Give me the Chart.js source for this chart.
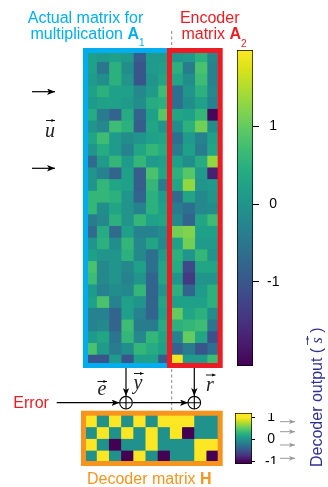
<!DOCTYPE html>
<html>
<head>
<meta charset="utf-8">
<script src="https://cdn.jsdelivr.net/npm/chart.js@4/dist/chart.umd.min.js"></script>
<style>
  html, body { margin: 0; padding: 0; background: #fff; }
  #wrap { position: relative; width: 328px; height: 487px; overflow: hidden; }
  canvas { position: absolute; }
  svg { position: absolute; left: 0; top: 0; pointer-events: none; }
</style>
</head>
<body>
<div id="wrap">
  <canvas id="topMap" width="135" height="316" style="left:85px;top:50px"></canvas>
  <canvas id="topBar" width="60" height="316" style="left:237px;top:50px"></canvas>
  <canvas id="hMap" width="134" height="47" style="left:85px;top:415px"></canvas>
  <canvas id="hBar" width="60" height="51" style="left:235px;top:413px"></canvas>
  <svg width="328" height="487" viewBox="0 0 328 487" xmlns="http://www.w3.org/2000/svg">
    <defs>
      <marker id="ah" viewBox="0 0 10 8" refX="10" refY="4" markerWidth="8" markerHeight="6.4" markerUnits="userSpaceOnUse" orient="auto">
        <path d="M0,0 L10,4 L0,8 L2.5,4 Z" fill="#000"/>
      </marker>
      <marker id="ahg" viewBox="0 0 10 8" refX="10" refY="4" markerWidth="6" markerHeight="5" markerUnits="userSpaceOnUse" orient="auto">
        <path d="M0,0 L10,4 L0,8 L2.5,4 Z" fill="#999"/>
      </marker>
      <marker id="ahs" viewBox="0 0 10 8" refX="10" refY="4" markerWidth="4" markerHeight="3.4" markerUnits="userSpaceOnUse" orient="auto">
        <path d="M0,0 L10,4 L0,8 L2.5,4 Z" fill="#000"/>
      </marker>
      <marker id="ahn" viewBox="0 0 10 8" refX="10" refY="4" markerWidth="4" markerHeight="3.4" markerUnits="userSpaceOnUse" orient="auto">
        <path d="M0,0 L10,4 L0,8 L2.5,4 Z" fill="#2e3192"/>
      </marker>
    </defs>
    <!-- matrix frames -->
    <rect x="85.5" y="50.5" width="84" height="315" fill="none" stroke="#00aeef" stroke-width="5"/>
    <rect x="169.5" y="50.5" width="50.7" height="315" fill="none" stroke="#ed1c24" stroke-width="5"/>
    <rect x="83.5" y="413.2" width="136.7" height="50.3" fill="none" stroke="#f7941d" stroke-width="5"/>
    <!-- dashed separator -->
    <line x1="171.7" y1="31" x2="171.7" y2="48" stroke="#8a8a8a" stroke-width="1" stroke-dasharray="3 2.5"/>
    <line x1="171.7" y1="369" x2="171.7" y2="410" stroke="#8a8a8a" stroke-width="1" stroke-dasharray="3 2.5"/>
    <!-- titles -->
    <g font-family="'Liberation Sans', Arial, sans-serif" font-size="16">
      <text x="85.5" y="23" text-anchor="middle" fill="#00aeef">Actual matrix for</text>
      <text x="87.5" y="39" text-anchor="middle" fill="#00aeef">multiplication <tspan font-weight="bold">A</tspan><tspan font-size="10" dy="7">1</tspan></text>
      <text x="209.7" y="23" text-anchor="middle" fill="#ed1c24">Encoder</text>
      <text x="214" y="39" text-anchor="middle" fill="#ed1c24">matrix <tspan font-weight="bold">A</tspan><tspan font-size="10" dy="8">2</tspan></text>
      <text x="13.3" y="408.3" fill="#ed1c24">Error</text>
      <text x="87" y="484" fill="#f7941d">Decoder matrix <tspan font-weight="bold">H</tspan></text>
    </g>
    <!-- input arrows and u -->
    <line x1="32" y1="91.7" x2="55" y2="91.7" stroke="#000" stroke-width="1.2" marker-end="url(#ah)"/>
    <line x1="32" y1="168.3" x2="55" y2="168.3" stroke="#000" stroke-width="1.2" marker-end="url(#ah)"/>
    <g font-family="'Liberation Serif', 'Times New Roman', serif" font-style="italic" font-size="20" fill="#222">
      <text x="50" y="136.7" text-anchor="middle">u</text>
      <text x="102" y="395" text-anchor="middle">e</text>
      <text x="138" y="389" text-anchor="middle">y</text>
      <text x="210" y="391" text-anchor="middle">r</text>
    </g>
    <line x1="46" y1="120.5" x2="55" y2="120.5" stroke="#000" stroke-width="0.9" marker-end="url(#ahs)"/>
    <line x1="97.5" y1="381.5" x2="107" y2="381.5" stroke="#000" stroke-width="0.9" marker-end="url(#ahs)"/>
    <line x1="134" y1="373.5" x2="143.5" y2="373.5" stroke="#000" stroke-width="0.9" marker-end="url(#ahs)"/>
    <line x1="206" y1="375" x2="215.5" y2="375" stroke="#000" stroke-width="0.9" marker-end="url(#ahs)"/>
    <!-- summing junctions -->
    <line x1="126" y1="368" x2="126" y2="396" stroke="#000" stroke-width="1.2" marker-end="url(#ah)"/>
    <line x1="194.3" y1="368" x2="194.3" y2="396" stroke="#000" stroke-width="1.2" marker-end="url(#ah)"/>
    <line x1="56.7" y1="402.7" x2="119.5" y2="402.7" stroke="#000" stroke-width="1.2" marker-end="url(#ah)"/>
    <line x1="132.7" y1="402.7" x2="188" y2="402.7" stroke="#000" stroke-width="1.2" marker-end="url(#ah)"/>
    <g fill="#fff" stroke="#000" stroke-width="1.1">
      <circle cx="126" cy="402.7" r="6.3"/>
      <circle cx="194.3" cy="402.7" r="6.3"/>
      <path d="M119.7,402.7 H132.3 M126,396.4 V409" fill="none"/>
      <path d="M188,402.7 H200.6 M194.3,396.4 V409" fill="none"/>
    </g>
    <!-- decoder output arrows -->
    <line x1="280" y1="421.7" x2="295" y2="421.7" stroke="#999" stroke-width="1" marker-end="url(#ahg)"/>
    <line x1="280" y1="431.7" x2="295" y2="431.7" stroke="#999" stroke-width="1" marker-end="url(#ahg)"/>
    <line x1="280" y1="445" x2="295" y2="445" stroke="#999" stroke-width="1" marker-end="url(#ahg)"/>
    <line x1="280" y1="458.3" x2="295" y2="458.3" stroke="#999" stroke-width="1" marker-end="url(#ahg)"/>
    <g transform="translate(321.5,467) rotate(-90)">
      <text x="0" y="0" font-family="'Liberation Sans', Arial, sans-serif" font-size="16" fill="#2e3192">Decoder output ( <tspan font-family="'Liberation Serif', serif" font-style="italic">s</tspan> )</text>
      <line x1="122" y1="-14" x2="131" y2="-14" stroke="#2e3192" stroke-width="0.9" marker-end="url(#ahn)"/>
    </g>
  </svg>
</div>
<script>
// ---------- data ----------
const columns = ['1','2','3','4','5','6','7','8','9','10','11'];
// rows of the top matrix (columns 1-7: A1, columns 8-11: A2)
const topMatrix = [
  [ 0.2, 0.1, 0.2, 0.1,-0.9, 0.1, 0.1,  0.0, 0.1, 0.5,-0.2],
  [ 0.2,-0.5, 0.5,-0.1,-1.0, 0.1, 0.2,  0.5,-0.4, 0.8,-0.3],
  [ 0.1,-0.1, 0.5, 0.0,-1.0, 0.0, 0.3,  0.3,-0.1, 0.7,-0.3],
  [ 0.2, 0.5, 0.2, 0.2,-0.2, 0.1, 0.7, -0.6, 0.0, 0.5,-0.2],
  [ 0.1, 0.2, 0.2, 0.1,-0.1, 0.4, 0.5, -0.6,-0.1, 0.2,-0.3],
  [ 0.4,-0.4,-0.8, 0.4,-0.8, 0.2, 0.9,  0.3, 0.2, 0.6,-2.0],
  [ 0.0,-0.2, 0.7, 0.5,-0.9, 0.3, 0.0, -0.1, 0.5, 1.1,-0.1],
  [ 0.3, 0.7, 0.1,-0.1, 0.0, 0.2, 0.3, -0.6, 0.1,-0.3, 0.2],
  [ 0.0, 0.4, 0.1,-0.3, 0.3, 0.6, 0.4, -0.4, 0.2,-0.4, 0.3],
  [-0.7, 0.1, 0.6, 0.1, 0.6, 0.1, 0.2,  0.2,-0.1, 0.4, 1.3],
  [ 0.0,-0.3,-0.8, 0.2,-0.9, 0.8, 0.3,  0.5, 0.9, 0.1,-1.7],
  [ 0.0, 0.6, 0.3, 0.2,-0.9, 0.6,-0.4,  0.3, 1.3, 0.0, 0.1],
  [ 0.6, 0.6, 0.5, 0.0,-0.8, 0.5, 0.1, -0.7, 0.3,-0.2, 0.0],
  [ 0.6,-0.1, 0.3, 0.0,-0.3, 0.5, 0.2, -0.4,-0.6,-0.2,-0.1],
  [-0.4,-0.2, 0.5, 0.0, 0.6, 0.2, 0.3, -0.2,-0.8, 0.3, 0.7],
  [-0.7, 0.4,-0.7, 0.2,-0.3,-0.3,-0.1,  1.1, 1.2, 0.2, 0.2],
  [ 0.0, 0.5,-0.1, 0.6,-0.2, 0.3,-0.2,  0.2, 1.1, 0.1, 0.1],
  [ 0.2, 0.0, 0.0, 0.5,-0.2,-0.6, 0.1,  0.5, 0.0, 0.6, 0.0],
  [ 0.8,-0.2, 0.0,-0.2, 0.2,-0.6, 0.3,  0.4,-1.2, 0.3, 0.3],
  [ 0.7,-0.2, 0.0,-0.3, 0.0,-0.8, 0.3,  0.0,-1.4, 0.0, 0.0],
  [ 0.1,-0.3,-0.1,-0.2, 0.6,-0.8, 0.0,  0.5,-0.8, 0.1, 0.5],
  [ 0.2, 0.8,-0.3, 0.2, 0.0,-0.8, 0.3,  0.2, 0.2, 0.2, 0.5],
  [-0.3,-0.3,-0.8, 0.2,-0.3,-0.8, 0.2,  1.0, 0.3, 0.5,-0.1],
  [-0.3,-0.2,-0.8, 0.7,-0.4,-0.4, 0.4,  0.5, 0.6, 0.7,-0.5],
  [ 0.1, 0.3,-0.5, 0.6,-0.2, 0.6, 0.3, -0.3, 1.0, 0.3,-1.1],
  [ 0.8, 0.1,-0.4,-0.1, 0.6, 0.4, 0.2, -0.8,-0.4,-1.0,-0.6],
  [-1.0,-1.0, 0.1,-1.0, 0.2, 0.2,-0.9,  1.9, 0.1, 0.1, 0.7]
];
// decoder matrix H (4 rows x 11 columns)
const decoderH = [
  [ 1, 0, 1, 0, 1, 0, 1, 1, 1, 0, 0],
  [ 0, 1, 0, 1, 0, 1, 0, 1,-1, 0, 0],
  [ 1, 0,-1, 0, 0, 1, 0, 0, 0, 1, 1],
  [ 0, 1, 0,-1, 1, 0,-1, 0, 0, 1,-1]
];
const topRange = [-2.08, 1.98];
const topTicks = [-1, 0, 1];
const hRange = [-1, 1];
const hBarRange = [-1.1, 1.2];
const hTicks = [-1, 0, 1];

// ---------- colour map ----------
const VIRIDIS = ['#440154','#48186a','#472d7b','#424086','#3b528b','#33638d','#2c728e','#26828e',
  '#21918c','#1fa088','#28ae80','#3fbc73','#5ec962','#84d44b','#addc30','#d8e219','#fde725'];
function hex2rgb(h) { return [1,3,5].map(i => parseInt(h.substr(i,2),16)); }
const VIR_RGB = VIRIDIS.map(hex2rgb);
function viridis(t) {
  t = Math.max(0, Math.min(1, t));
  const f = t * (VIR_RGB.length - 1);
  const i = Math.min(Math.floor(f), VIR_RGB.length - 2);
  const u = f - i;
  const a = VIR_RGB[i], b = VIR_RGB[i+1];
  const c = a.map((v, k) => Math.round(v + (b[k]-v)*u));
  return `rgb(${c[0]},${c[1]},${c[2]})`;
}
const norm = (v, r) => (v - r[0]) / (r[1] - r[0]);

Chart.defaults.font.family = "'Liberation Sans', Arial, sans-serif";
Chart.defaults.color = '#000';

const baseOpts = {
  responsive: false,
  animation: false,
  devicePixelRatio: 1,
  layout: { padding: 0 },
  plugins: { legend: { display: false }, tooltip: { enabled: false } }
};

function heatmap(id, matrix, range) {
  return new Chart(document.getElementById(id), {
    type: 'bar',
    data: {
      labels: columns,
      datasets: matrix.map(row => ({
        data: row.map(() => 1),
        backgroundColor: row.map(v => viridis(norm(v, range))),
        borderWidth: 0,
        barPercentage: 1,
        categoryPercentage: 1,
        inflateAmount: 0.4
      }))
    },
    options: Object.assign({}, baseOpts, {
      scales: {
        x: { display: false, stacked: true },
        y: { display: false, stacked: true, min: 0, max: matrix.length, reverse: true }
      }
    })
  });
}

function colorbar(id, range, mapRange, ticks, cfg) {
  return new Chart(document.getElementById(id), {
    type: 'bar',
    data: {
      labels: [''],
      datasets: [{
        data: [[range[0], range[1]]],
        backgroundColor: (ctx) => {
          const chart = ctx.chart;
          const ys = chart.scales.y;
          if (!chart.chartArea || !ys) return '#21918c';
          const y0 = ys.getPixelForValue(range[0]);
          const y1 = ys.getPixelForValue(range[1]);
          const g = chart.ctx.createLinearGradient(0, y0, 0, y1);
          for (let k = 0; k <= 32; k++) {
            const v = range[0] + (range[1]-range[0]) * k / 32;
            g.addColorStop(k/32, viridis(norm(v, mapRange)));
          }
          return g;
        },
        borderColor: '#000',
        borderWidth: 1,
        borderSkipped: false,
        barPercentage: 1,
        categoryPercentage: 1
      }]
    },
    options: Object.assign({}, baseOpts, {
      scales: {
        x: { display: false },
        y: {
          position: 'right',
          min: range[0], max: range[1],
          afterBuildTicks: s => { s.ticks = ticks.map(v => ({ value: v })); },
          afterFit: s => { s.width = cfg.axisWidth; s.paddingTop = 0; s.paddingBottom = 0; },
          border: { display: false },
          grid: { drawOnChartArea: false, drawTicks: true, tickLength: cfg.tickLength, color: '#000', lineWidth: 1 },
          ticks: { autoSkip: false, crossAlign: 'center', padding: cfg.pad, font: { size: 14 }, color: '#000', callback: v => String(v) }
        }
      }
    })
  });
}

heatmap('topMap', topMatrix, topRange);
heatmap('hMap', decoderH, hRange);
colorbar('topBar', topRange, topRange, topTicks, { axisWidth: 44, tickLength: 6, pad: 8 });
colorbar('hBar', hBarRange, hRange, hTicks, { axisWidth: 43, tickLength: 3, pad: 10 });
</script>
</body>
</html>
